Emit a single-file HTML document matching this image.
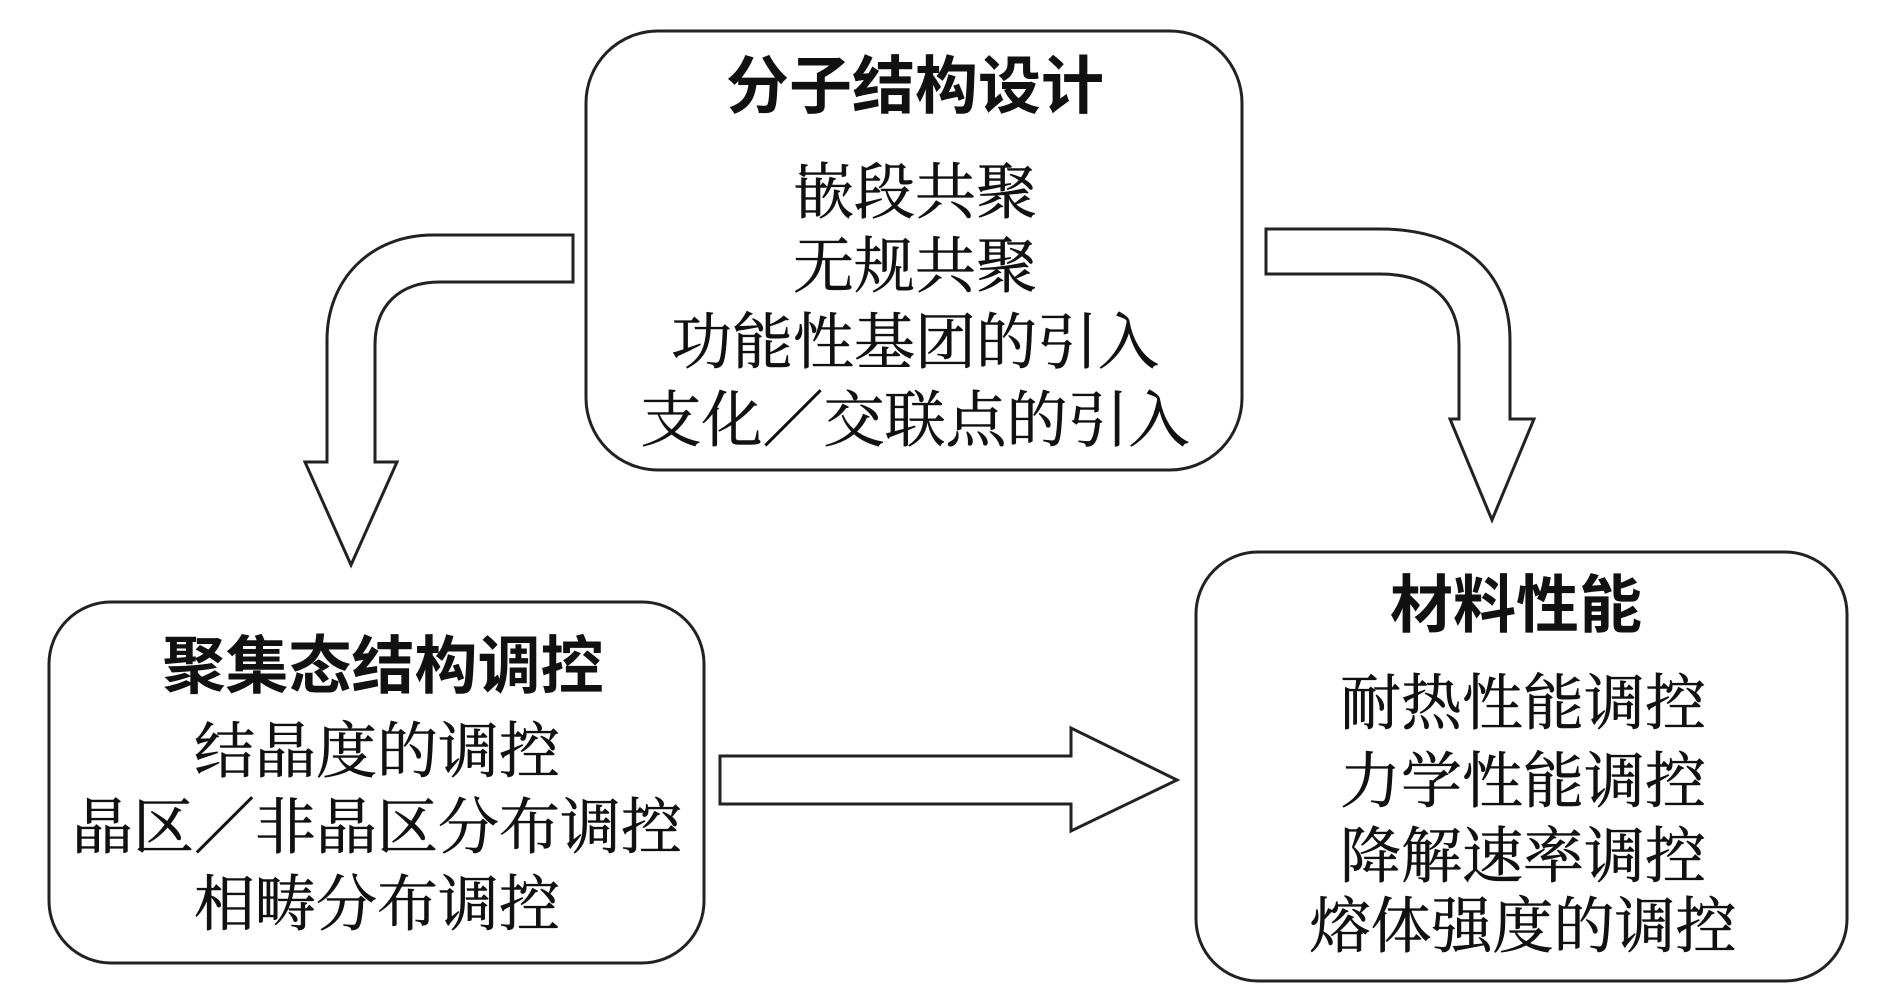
<!DOCTYPE html>
<html><head><meta charset="utf-8"><style>
body{margin:0;background:#fff;width:1887px;height:1003px;overflow:hidden}
svg{display:block}
.t{font-family:"Liberation Sans","Noto Sans CJK SC",sans-serif;font-weight:bold;font-size:63px;fill:#111}
.s{font-family:"Liberation Serif","Noto Serif CJK SC",serif;font-size:61px;fill:#111;stroke:#111;stroke-width:0.6}
</style></head><body>
<svg width="1887" height="1003" viewBox="0 0 1887 1003" xmlns="http://www.w3.org/2000/svg">
<g fill="none" stroke="#222" stroke-width="3">
<rect x="586" y="31" width="656" height="439" rx="72"/>
<rect x="49" y="602" width="655" height="361" rx="62"/>
<rect x="1196" y="552" width="651" height="429" rx="62"/>
<path d="M573,235 L433,235 C370,235 327,280 327,340 L327,462 L305,462 L351,565 L397,462 L375,462 L375,345 C375,305 400,282 440,282 L573,282 Z" fill="#fff"/>
<path d="M1266,229 L1380,229 C1460,229 1510,270 1510,340 L1510,419 L1534,419 L1492,520 L1450,419 L1459,419 L1459,345 C1459,300 1430,274 1380,274 L1266,274 Z" fill="#fff"/>
<path d="M720,756 L1071,756 L1071,728 L1177,780 L1071,831 L1071,804 L720,804 Z" fill="#fff"/>
</g>
<g text-anchor="middle">
<text class="t" x="915" y="108">分子结构设计</text>
<text class="s" x="915" y="213">嵌段共聚</text>
<text class="s" x="915" y="287">无规共聚</text>
<text class="s" x="915" y="363">功能性基团的引入</text>
<text class="s" x="915" y="441">支化／交联点的引入</text>
<text class="t" x="383" y="688">聚集态结构调控</text>
<text class="s" x="377" y="772">结晶度的调控</text>
<text class="s" x="377" y="848">晶区／非晶区分布调控</text>
<text class="s" x="377" y="925">相畴分布调控</text>
<text class="t" x="1516" y="627">材料性能</text>
<text class="s" x="1523" y="724">耐热性能调控</text>
<text class="s" x="1523" y="802">力学性能调控</text>
<text class="s" x="1523" y="877">降解速率调控</text>
<text class="s" x="1523" y="947">熔体强度的调控</text>
</g>
</svg>
</body></html>
